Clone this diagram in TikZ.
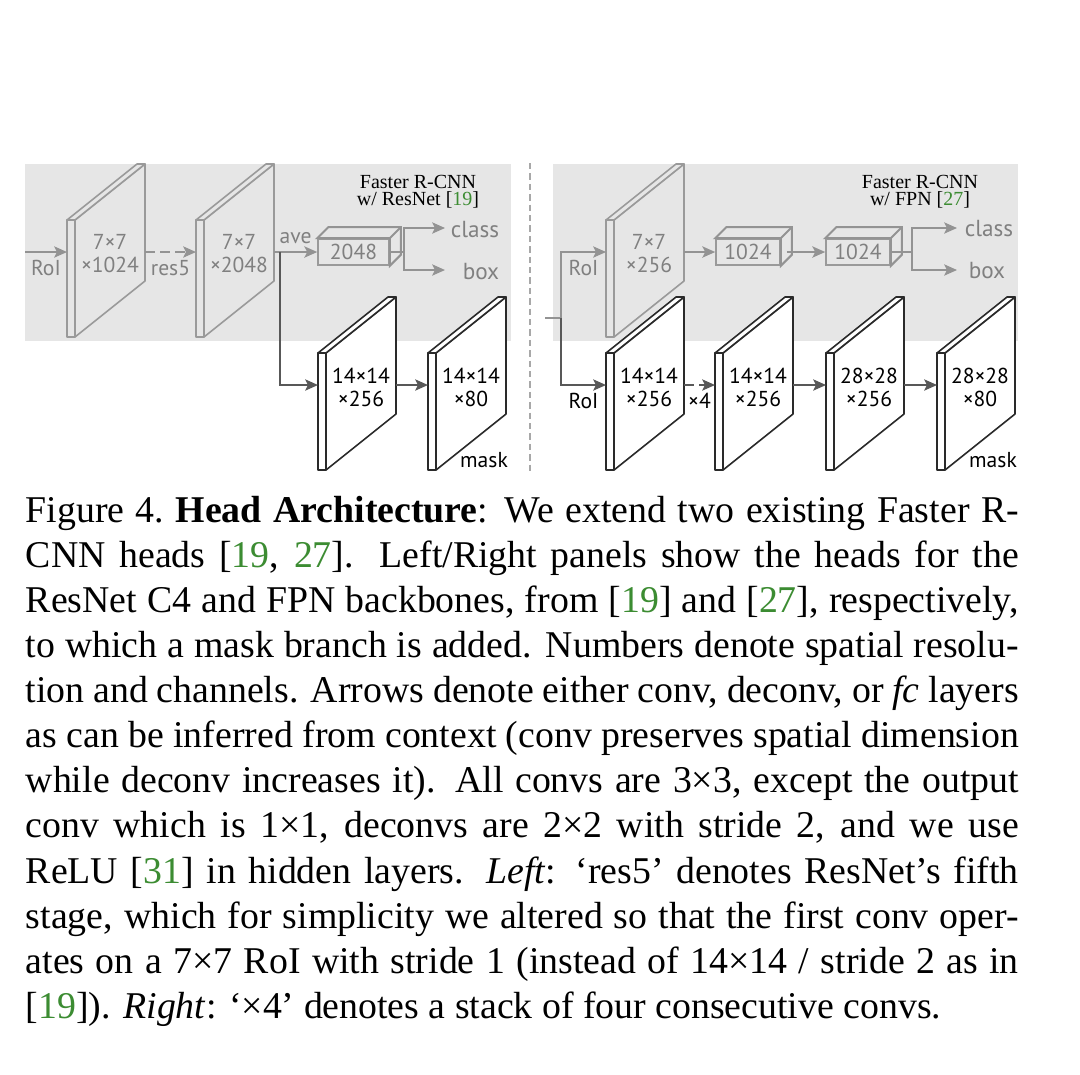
\documentclass[tikz,border=0pt]{standalone}
\usepackage{fontspec}
\setmainfont{Liberation Serif}
\newfontfamily\labfont{PT Sans}
\usetikzlibrary{arrows.meta,positioning,calc}

\definecolor{bgray}{HTML}{E6E6E6}
\definecolor{lgray}{HTML}{9A9A9A}
\definecolor{agray}{HTML}{939393}
\definecolor{tgray}{HTML}{808080}
\definecolor{dgray}{HTML}{585858}
\definecolor{dline}{HTML}{2A2A2A}
\definecolor{sgray}{HTML}{A8A8A8}
\definecolor{citeg}{RGB}{60,140,50}

\newcommand{\cit}[1]{\textcolor{citeg}{#1}}
% slab: name, left x, top y, style
\newcommand{\slab}[4]{%
  \draw[#4] (#2,#3) rectangle ++(8,117);
  \draw[#4] (#2+8,#3) -- ++(0,117) -- ++(70,-56) -- ++(0,-117) -- cycle;
  \draw[#4] (#2,#3) -- ++(70,-56) -- ++(8,0) -- ++(-70,56) -- cycle;
  \coordinate (#1-w) at (#2,#3+32);
  \coordinate (#1-e) at (#2+78,#3+32);
  \coordinate (#1-c) at (#2+43,#3+34);
}
% depth faces of an fc box
\newcommand{\fcdepth}[1]{%
  \draw[upline, fill=bgray] (#1.north west) -- ++(11,-11) -- ($(#1.north east)+(11,-11)$)
    -- ($(#1.south east)+(11,-11)$) -- (#1.south east) -- (#1.north east) -- cycle;
  \draw[upline] (#1.north east) -- ++(11,-11);
}

\begin{document}
\begin{tikzpicture}[x=0.25pt, y=-0.25pt,
    upslab/.style={draw=lgray, fill=bgray, line width=0.4pt, line join=round},
    lowslab/.style={draw=dline, fill=white, line width=0.4pt, line join=round},
    upline/.style={draw=agray, line width=0.5pt},
    uparr/.style={upline, -{Stealth[length=3.2pt, width=2.8pt, inset=0.7pt]}},
    lowline/.style={draw=dgray, line width=0.5pt},
    lowarr/.style={lowline, -{Stealth[length=3.2pt, width=2.8pt, inset=0.7pt]}},
    uplab/.style={font=\labfont\fontsize{5.4}{5.75}\selectfont, text=tgray, align=center},
    lowlab/.style={font=\labfont\fontsize{5.4}{5.75}\selectfont, text=black, align=center},
    fcbox/.style={draw=lgray, fill=bgray, line width=0.4pt, minimum height=6.5pt, inner sep=0pt,
      font=\labfont\fontsize{5.4}{5.75}\selectfont, text=tgray},
    outlab/.style={uplab, anchor=west, inner sep=0pt, font=\labfont\fontsize{5.8}{6}\selectfont},
    ttl/.style={font=\fontsize{5}{4.3}\selectfont, align=center},
    sep/.style={draw=sgray, line width=0.3pt, dash pattern=on 1.6pt off 1pt},
    caption/.style={font=\fontsize{9.45}{11.28}\selectfont, text width=248.25pt, align=justify, inner sep=0pt}
]
\useasboundingbox (0,0) rectangle (1080,1074);
\fill[white] (0,0) rectangle (1080,1074);

% panels
\fill[bgray] (25,164) rectangle (511,341);
\fill[bgray] (553,164) rectangle (1018,341);
\draw[sep] (530,163) -- (530,472);

\node[ttl] (ttl1) at (418,192) {Faster R-CNN\\w/ ResNet [\cit{19}]};
\node[ttl] (ttl2) at (920,192) {Faster R-CNN\\w/ FPN [\cit{27}]};

% left: ResNet C4 head
\slab{s1}{67}{220}{upslab}
\slab{s2}{196}{220}{upslab}
\node[uplab] (t1) at (s1-c) {7×7\\×1024};
\node[uplab] (t2) at (s2-c) {7×7\\×2048};
\node[fcbox, minimum width=17.75pt] (b1) at (353.5,252) {2048};
\fcdepth{b1}

\coordinate (in1) at (25,252);
\draw[uparr] (in1) -- node[uplab, below=-1.5pt] {RoI} (s1-w);
\draw[uparr, dash pattern=on 2.4pt off 1.4pt] (s1-e) -- node[uplab, below=-1.5pt] {res5} (s2-w);
\draw[uparr] (s2-e) -- node[uplab, above=-1.5pt] {ave} (b1.west);
\coordinate (sp3) at ($(b1.east)+(14,0)$);
\coordinate (c1) at (445,228);
\coordinate (x1) at (445,270);
\draw[upline] (b1.east) -- (sp3);
\draw[uparr] (sp3) |- (c1);
\draw[uparr] (sp3) |- (x1);
\node[outlab, xshift=1.25pt, yshift=-0.5pt] (cls1) at (c1) {class};
\node[outlab, xshift=4.25pt, yshift=-0.4pt] (box1) at (x1) {box};

\slab{m1}{318}{353}{lowslab}
\slab{m2}{428}{353}{lowslab}
\node[lowlab] (t3) at (m1-c) {14×14\\×256};
\node[lowlab] (t4) at (m2-c) {14×14\\×80};
\coordinate (sp1) at (280,252);
\draw[lowarr] (sp1) |- (m1-w);
\draw[lowarr] (m1-e) -- (m2-w);
\node[lowlab, anchor=base] (mk1) at (484,467) {mask};

% right: FPN head
\slab{u1}{606}{220}{upslab}
\node[uplab] (t5) at (u1-c) {7×7\\×256};
\node[fcbox, minimum width=16pt] (b2) at (748,252) {1024};
\node[fcbox, minimum width=16pt] (b3) at (858,252) {1024};
\fcdepth{b2}
\fcdepth{b3}
\coordinate (in2) at (545,318);
\coordinate (sp2) at (561,318);
\draw[upline] (in2) -- (sp2);
\draw[uparr] (sp2) |- node[uplab, pos=0.75, below=-1.5pt] {RoI} (u1-w);
\draw[uparr] (u1-e) -- (b2.west);
\draw[uparr] ($(b2.east)+(6,0)$) -- (b3.west);
\coordinate (sp4) at ($(b3.east)+(21,0)$);
\coordinate (c2) at (957,228);
\coordinate (x2) at (957,270);
\draw[upline] (b3.east) -- (sp4);
\draw[uparr] (sp4) |- (c2);
\draw[uparr] (sp4) |- (x2);
\node[outlab, xshift=1.75pt, yshift=-0.2pt] (cls2) at (c2) {class};
\node[outlab, xshift=2.75pt, yshift=-0.2pt] (box2) at (x2) {box};

\slab{n1}{606}{353}{lowslab}
\slab{n2}{715}{353}{lowslab}
\slab{n3}{826}{353}{lowslab}
\slab{n4}{937}{353}{lowslab}
\node[lowlab] (t6) at (n1-c) {14×14\\×256};
\node[lowlab] (t7) at (n2-c) {14×14\\×256};
\node[lowlab] (t8) at (n3-c) {28×28\\×256};
\node[lowlab] (t9) at (n4-c) {28×28\\×80};
\draw[lowarr] (sp2) |- node[lowlab, pos=0.75, below=-1.5pt] {RoI} (n1-w);
\draw[lowarr, dash pattern=on 2.4pt off 1.4pt] (n1-e) -- node[lowlab, below=-1.5pt] {×4} (n2-w);
\draw[lowarr] (n2-e) -- (n3-w);
\draw[lowarr] (n3-e) -- (n4-w);
\node[lowlab, anchor=base] (mk2) at (993,467) {mask};

% caption
\node[caption, anchor=north west] (cap) at (25,495) {Figure 4.\ \textbf{Head Architecture}: We extend two existing Faster R-\linebreak{}
CNN heads [\cit{19}, \cit{27}].  Left/Right panels show the heads for the\linebreak{}
ResNet C4 and FPN backbones, from [\cit{19}] and [\cit{27}], respectively,\linebreak{}
to which a mask branch is added. Numbers denote spatial resolu-\linebreak{}
tion and channels. Arrows denote either conv, deconv, or \textit{fc} layers\linebreak{}
as can be inferred from context (conv preserves spatial dimension\linebreak{}
while deconv increases it). All convs are 3×3, except the output\linebreak{}
conv which is 1×1, deconvs are 2×2 with stride 2, and we use\linebreak{}
ReLU [\cit{31}] in hidden layers. \textit{Left}: `res5' denotes ResNet's fifth\linebreak{}
stage, which for simplicity we altered so that the first conv oper-\linebreak{}
ates on a 7×7 RoI with stride 1 (instead of 14×14 / stride 2 as in\linebreak{}
[\cit{19}]). \textit{Right}: `×4' denotes a stack of four consecutive convs.};
\end{tikzpicture}
\end{document}
